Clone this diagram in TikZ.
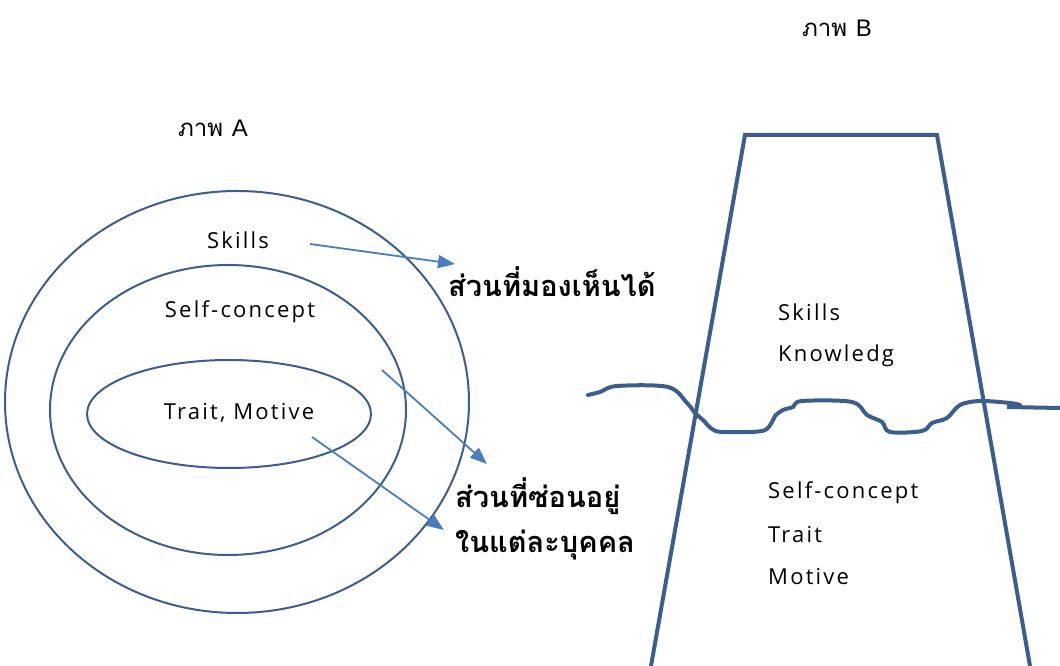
\documentclass[tikz,border=0pt]{standalone}
\usepackage{fontspec}
\setmainfont[LetterSpace=10]{Open Sans}
\newfontfamily\thaifont[Script=Thai]{Loma}
\newfontfamily\capfont{Liberation Sans}
\usepackage{tkz-euclide}
\usetikzlibrary{arrows.meta}
\definecolor{rimblue}{HTML}{3B5E8F}
\definecolor{pointblue}{HTML}{4A7EBB}
\tikzset{
  ring/.style={draw=rimblue,line width=2pt},
  pointer/.style={draw=pointblue,line width=1.8pt,
     -{Triangle[length=17pt,width=13pt]}},
  berg/.style={draw=rimblue,line width=4pt},
  word/.style={font=\fontsize{22}{26}\selectfont,inner sep=0pt},
  thaiword/.style={font=\thaifont\bfseries\fontsize{29}{34}\selectfont,
     anchor=west,inner sep=0pt},
  caption/.style={font=\fontsize{24}{28}\selectfont,inner sep=0pt}
}

\begin{document}
\begin{tikzpicture}[x=1pt,y=1pt]
 \useasboundingbox (0,0) rectangle (1060,666);
 % picture A
 \tkzDefPoints{237/264/O_1,228/256/O_2,229/252/O_3}
 \draw[ring] (O_1) ellipse [x radius=232,y radius=211];
 \draw[ring] (O_2) ellipse [x radius=178,y radius=145];
 \draw[ring] (O_3) ellipse [x radius=142,y radius=54];
 \node[caption] (capA) at (213,538) {{\thaifont ภาพ} {\capfont A}};
 \node[word] (skillsA) at (238,426) {Skills};
 \node[word] (selfA) at (240,354) {Self-concept};
 \node[word] (traitA) at (239,253) {Trait, Motive};
 \node[thaiword] (seen) at (448,384) {ส่วนที่มองเห็นได้};
 \node[thaiword] (hidden) at (455,170) {ส่วนที่ซ่อนอยู่};
 \node[thaiword] (each) at (455,121) {ในแต่ละบุคคล};
 \tkzDefPoints{310/422/S_1,455/402/E_1,
    382/296/S_2,487/202/E_2,
    312/229/S_3,444/136/E_3}
 \draw[pointer] (S_1) -- (E_1);
 \draw[pointer] (S_2) -- (E_2);
 \draw[pointer] (S_3) -- (E_3);
 % picture B
 \tkzDefPoints{651/0/T_0,745/531/T_1,937/531/T_2,1030/0/T_3}
 \draw[berg,line join=miter] (T_0) -- (T_1) -- (T_2) -- (T_3);
 \draw[berg,line cap=round] plot[smooth,tension=0.55] coordinates {
   (588,271) (600,274) (617,280) (668,279) (687,263) (695,253)
   (703,246) (712,237) (723,234) (762,235) (772,244) (775,250)
   (783,256) (793,259) (802,265) (852,264) (867,251) (882,244)
   (890,234) (922,235) (932,243) (947,248) (960,261) (980,265)
   (1010,263) (1020,261)};
 \tkzDefPoints{1007/259/W_1,1060/258/W_2}
 \draw[berg] (W_1) -- (W_2);
 \node[caption] (capB) at (837,638) {{\thaifont ภาพ} {\capfont B}};
 \node[word,anchor=west] (skillsB) at (778,354) {Skills};
 \node[word,anchor=west] (knowB) at (778,310) {Knowledg};
 \node[word,anchor=west] (selfB) at (768,173) {Self-concept};
 \node[word,anchor=west] (traitB) at (768,131) {Trait};
 \node[word,anchor=west] (motiveB) at (768,89) {Motive};
\end{tikzpicture}
\end{document}
